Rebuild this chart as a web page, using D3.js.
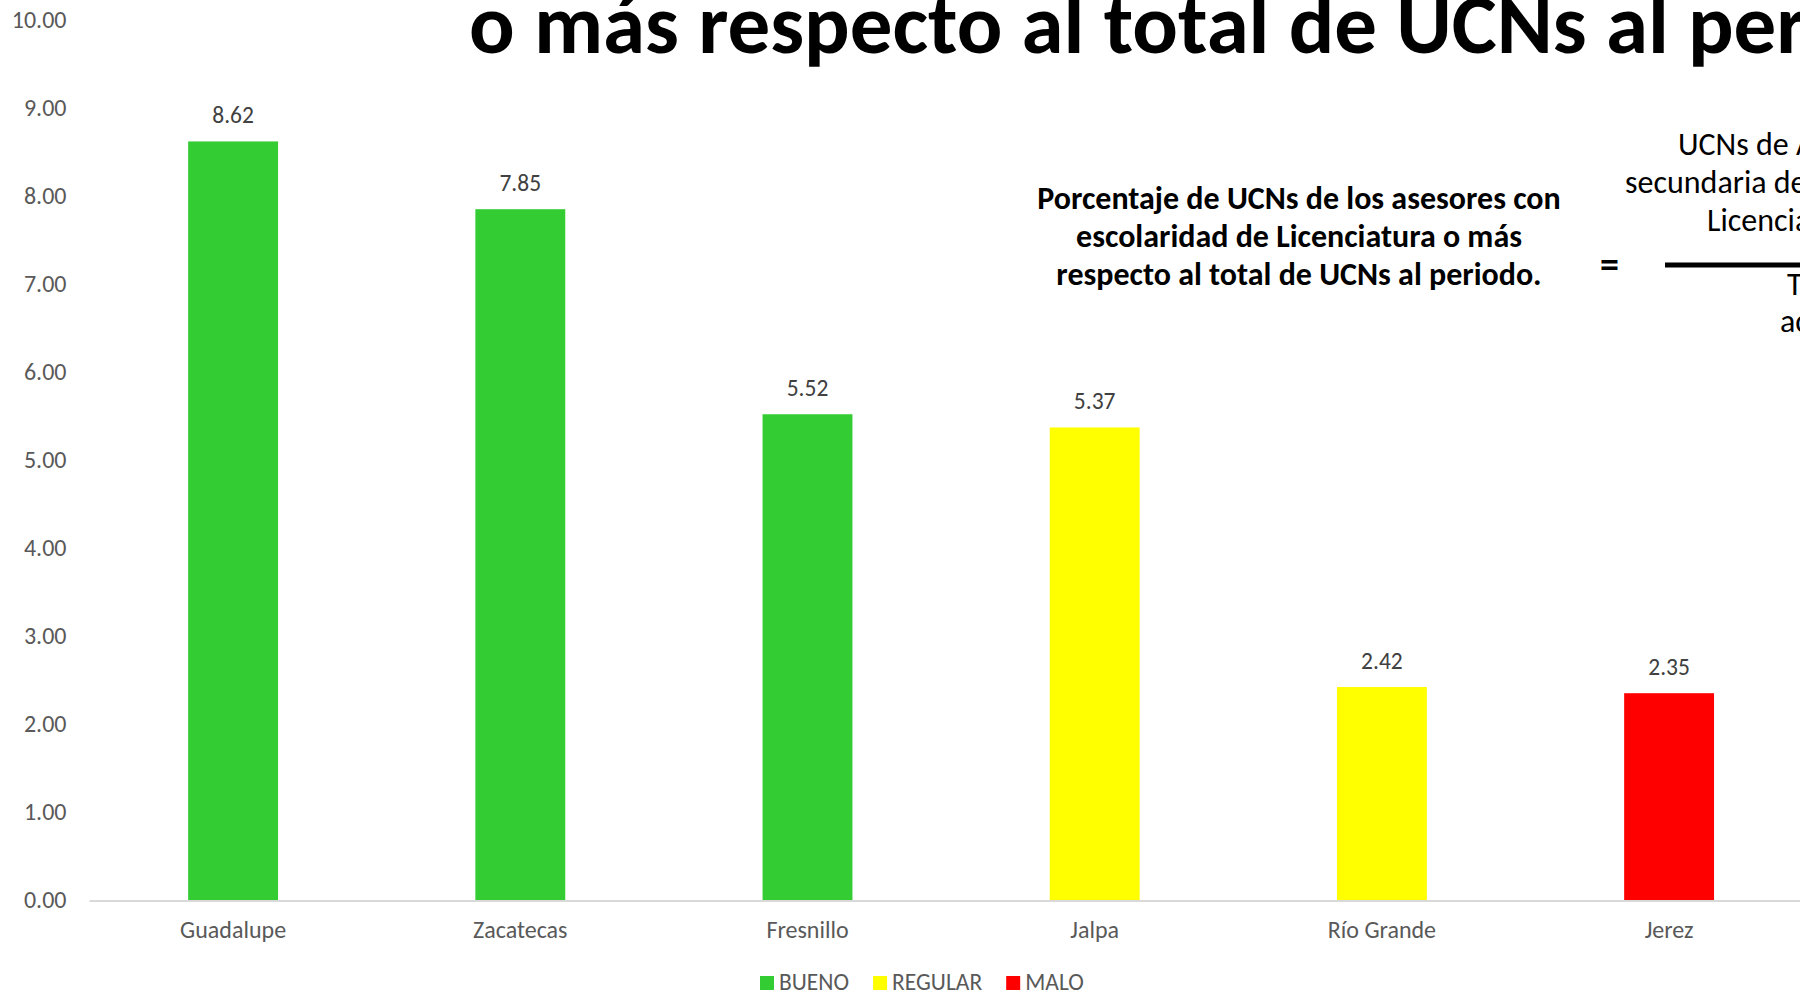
<!DOCTYPE html>
<html>
<head>
<meta charset="utf-8">
<script src="https://cdn.jsdelivr.net/npm/d3@7"></script>
<style>
  body { margin: 0; background: #fff; overflow: hidden; }
  svg { display: block; font-family: Carlito, Calibri, Lato, sans-serif; }
</style>
</head>
<body>
<svg></svg>
<script>
let categories = ['Guadalupe', 'Zacatecas', 'Fresnillo', 'Jalpa', 'Río Grande', 'Jerez'];
let values = [8.62, 7.85, 5.52, 5.37, 2.42, 2.35];
let ratings = ['BUENO', 'BUENO', 'BUENO', 'REGULAR', 'REGULAR', 'MALO'];
let legendLabels = ['BUENO', 'REGULAR', 'MALO'];
let legendColors = ['#33CC33', '#FFFF00', '#FF0000'];
let yTicks = [0, 1, 2, 3, 4, 5, 6, 7, 8, 9, 10];
let titleText = 'o más respecto al total de UCNs al periodo';
let noteLines = ['Porcentaje de UCNs de los asesores con', 'escolaridad de Licenciatura o más', 'respecto al total de UCNs al periodo.'];
let numeratorLines = ['UCNs de Asesores de', 'secundaria de escolaridad', 'Licenciatura o más'];
let denominatorLines = ['Total de UCNs', 'acreditadas'];

let width = 1800;
let height = 995;

let svg = d3.select('svg')
            .attr('width', width)
            .attr('height', height);

let color = d3.scaleOrdinal()
              .domain(legendLabels)
              .range(legendColors);

let xScale = d3.scaleBand()
               .domain(categories)
               .range([89.5, 1812.7])
               .paddingInner(0.687)
               .paddingOuter(0.3435);

let yScale = d3.scaleLinear()
               .domain([0, 10])
               .range([900, 20]);

// y axis, no line and no ticks
let yAxis = d3.axisLeft(yScale)
              .tickValues(yTicks)
              .tickSize(0)
              .tickPadding(23)
              .tickFormat(d3.format('.2f'));

let gy = svg.append('g')
            .attr('transform', 'translate(89.5,0)')
            .call(yAxis);
gy.select('.domain').remove();
gy.selectAll('text')
  .style('font-size', '24px')
  .style('font-family', 'Carlito, Calibri, Lato, sans-serif')
  .attr('fill', '#595959');

// baseline
svg.append('line')
    .attr('x1', 89.5)
    .attr('x2', width)
    .attr('y1', yScale(0) + 1)
    .attr('y2', yScale(0) + 1)
    .attr('stroke', '#d9d9d9')
    .attr('stroke-width', 2);

svg.selectAll('rect.bar')
    .data(values)
    .enter()
    .append('rect')
    .classed('bar', true)
    .attr('x', (d, i) => xScale(categories[i]))
    .attr('y', d => yScale(d))
    .attr('width', xScale.bandwidth())
    .attr('height', d => yScale(0) - yScale(d))
    .attr('fill', (d, i) => color(ratings[i]));

svg.selectAll('text.value')
    .data(values)
    .enter()
    .append('text')
    .classed('value', true)
    .attr('x', (d, i) => xScale(categories[i]) + xScale.bandwidth() / 2)
    .attr('y', d => yScale(d) - 18)
    .attr('text-anchor', 'middle')
    .attr('fill', '#404040')
    .style('font-size', '23.5px')
    .text(d => d.toFixed(2));

// x axis labels
let xAxis = d3.axisBottom(xScale)
              .tickSize(0)
              .tickPadding(0);
let gx = svg.append('g')
            .attr('transform', 'translate(0,900)')
            .call(xAxis);
gx.select('.domain').remove();
gx.selectAll('text')
  .attr('dy', null)
  .attr('y', 38)
  .style('font-size', '24px')
  .style('font-family', 'Carlito, Calibri, Lato, sans-serif')
  .attr('fill', '#595959');

// legend
let lx = 760;
legendLabels.forEach((name, i) => {
  svg.append('rect')
      .attr('x', lx)
      .attr('y', 976)
      .attr('width', 14)
      .attr('height', 14)
      .attr('fill', legendColors[i]);
  let t = svg.append('text')
              .attr('x', lx + 19)
              .attr('y', 990)
              .attr('fill', '#595959')
              .style('font-size', '23.5px')
              .text(name);
  lx += 19 + t.node().getComputedTextLength() + 24;
});

// big title, cut by the top of the page
svg.append('text')
    .attr('x', 469)
    .attr('y', 53)
    .style('font-size', '85px')
    .style('font-weight', 'bold')
    .attr('fill', '#000')
    .text(titleText);

svg.append('text')
    .attr('text-anchor', 'middle')
    .style('font-size', '32px')
    .style('font-weight', 'bold')
    .attr('fill', '#000')
    .selectAll('tspan')
    .data(noteLines)
    .enter()
    .append('tspan')
    .attr('x', 1299)
    .attr('y', (d, i) => 209 + i * 38)
    .text(d => d);

svg.append('text')
    .attr('x', 1600)
    .attr('y', 277)
    .style('font-size', '38px')
    .style('font-weight', 'bold')
    .text('=');

// fraction
let numX = [1678, 1625, 1707];
svg.append('text')
    .style('font-size', '32px')
    .attr('fill', '#000')
    .selectAll('tspan')
    .data(numeratorLines)
    .enter()
    .append('tspan')
    .attr('x', (d, i) => numX[i])
    .attr('y', (d, i) => 155 + i * 38)
    .text(d => d);

svg.append('line')
    .attr('x1', 1665)
    .attr('x2', width)
    .attr('y1', 265)
    .attr('y2', 265)
    .attr('stroke', '#000')
    .attr('stroke-width', 5);

let denX = [1787, 1780];
svg.append('text')
    .style('font-size', '32px')
    .attr('fill', '#000')
    .selectAll('tspan')
    .data(denominatorLines)
    .enter()
    .append('tspan')
    .attr('x', (d, i) => denX[i])
    .attr('y', (d, i) => 295 + i * 37)
    .text(d => d);
</script>
</body>
</html>
